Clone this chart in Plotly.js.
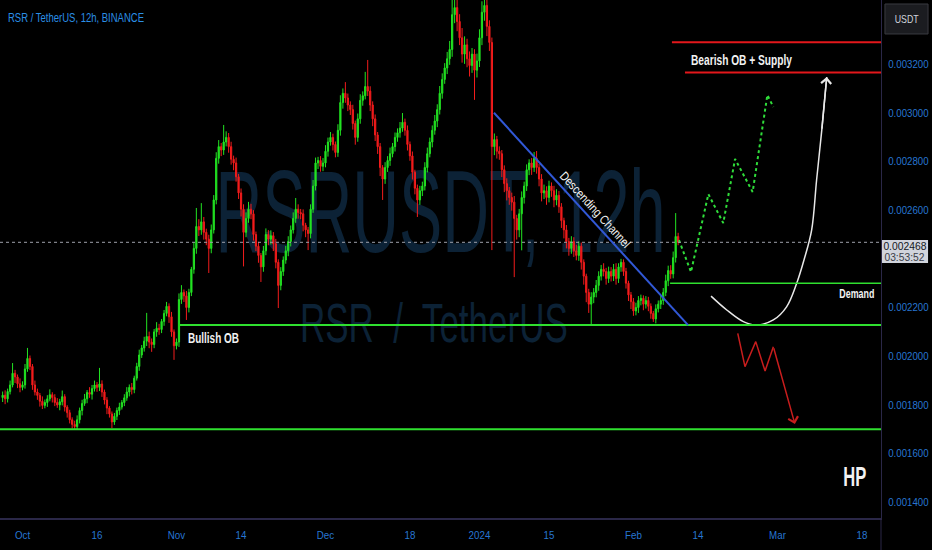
<!DOCTYPE html>
<html>
<head>
<meta charset="utf-8">
<script src="https://cdn.plot.ly/plotly-3.0.1.min.js"></script>
<style>
  html, body { margin: 0; padding: 0; background: #000; }
  #chart { width: 932px; height: 550px; }
</style>
</head>
<body>
<div id="chart"></div>
<script>
// RSR / TetherUS, 12h bars. Prices are stored in millionths of USDT.
const firstBarUTC = Date.UTC(2023, 8, 27, 0, 0);
const barHours = 12;
const firstOpen = 1830;

const closes = [
  1840, 1825, 1855, 1882, 1930, 1915, 1887, 1872, 1882, 1948,
  1991, 1958, 1882, 1853, 1839, 1815, 1798, 1810, 1825, 1842,
  1830, 1810, 1800, 1813, 1834, 1791, 1768, 1739, 1720, 1711,
  1739, 1777, 1806, 1825, 1851, 1844, 1867, 1882, 1872, 1886,
  1853, 1820, 1787, 1763, 1730, 1753, 1777, 1791, 1810, 1829,
  1853, 1872, 1863, 1910, 1958, 2005, 2034, 2062, 2081, 2058,
  2048, 2100, 2115, 2110, 2143, 2176, 2205, 2162, 2100, 2043,
  2058, 2233, 2262, 2248, 2200, 2262, 2357, 2443, 2533, 2519,
  2552, 2509, 2481, 2443, 2519, 2642, 2813, 2861, 2847, 2880,
  2899, 2861, 2809, 2794, 2737, 2671, 2604, 2509, 2566, 2604,
  2585, 2500, 2452, 2414, 2367, 2433, 2500, 2481, 2495, 2462,
  2386, 2291, 2348, 2395, 2433, 2471, 2519, 2566, 2604, 2590,
  2585, 2538, 2519, 2504, 2604, 2699, 2794, 2804, 2780, 2794,
  2842, 2880, 2899, 2870, 2837, 2928, 3042, 3080, 3061, 3032,
  3013, 2956, 2899, 2975, 3051, 3070, 3108, 3089, 3032, 2975,
  2909, 2861, 2775, 2728, 2775, 2804, 2832, 2861, 2899, 2918,
  2937, 2961, 2928, 2870, 2823, 2756, 2690, 2642, 2680, 2699,
  2775, 2832, 2880, 2928, 2966, 3013, 3080, 3137, 3184, 3222,
  3260, 3403, 3432, 3375, 3308, 3241, 3279, 3222, 3194, 3241,
  3175, 3213, 3308, 3413, 3441, 3355, 3289, 2861, 2890, 2842,
  2832, 2766, 2709, 2680, 2652, 2633, 2566, 2519, 2585, 2652,
  2699, 2766, 2794, 2775, 2813, 2775, 2728, 2671, 2680, 2652,
  2699, 2680, 2642, 2661, 2614, 2557, 2519, 2471, 2443, 2471,
  2433, 2414, 2452, 2386, 2329, 2262, 2214, 2243, 2262, 2291,
  2329, 2357, 2348, 2319, 2348, 2329, 2357, 2319, 2367, 2386,
  2348, 2300, 2252, 2224, 2186, 2200, 2229, 2238, 2214, 2229,
  2205, 2176, 2153, 2195, 2214, 2229, 2262, 2310, 2352, 2338,
  2405, 2492, 2468
];

// upper and lower shadow lengths of each bar
const wickUp = [
  15, 20, 12, 18, 42, 14, 10, 22, 15, 20,
  43, 12, 10, 18, 14, 10, 20, 12, 15, 22,
  10, 14, 18, 12, 25, 10, 8, 12, 10, 15,
  18, 12, 15, 20, 10, 22, 15, 18, 12, 66,
  15, 10, 12, 8, 10, 14, 12, 18, 10, 15,
  20, 12, 18, 10, 15, 22, 12, 18, 97, 20,
  15, 12, 25, 18, 10, 14, 18, 12, 20, 10,
  15, 25, 30, 12, 20, 15, 10, 25, 76, 30,
  77, 20, 15, 18, 22, 20, 25, 27, 15, 70,
  25, 18, 20, 15, 22, 12, 18, 20, 25, 30,
  22, 15, 12, 18, 10, 20, 25, 18, 22, 15,
  20, 12, 18, 15, 20, 22, 18, 25, 46, 20,
  15, 18, 10, 12, 20, 25, 22, 15, 18, 20,
  25, 18, 22, 15, 12, 25, 30, 20, 46, 18,
  15, 20, 12, 22, 25, 18, 60, 109, 20, 15,
  18, 12, 15, 10, 22, 18, 25, 15, 20, 18,
  25, 38, 15, 20, 12, 18, 10, 15, 20, 18,
  22, 25, 18, 20, 25, 22, 30, 25, 20, 28,
  35, 70, 90, 60, 30, 40, 35, 25, 30, 25,
  20, 30, 35, 45, 40, 30, 25, 20, 25, 15,
  20, 15, 18, 22, 15, 20, 25, 15, 20, 25,
  18, 22, 15, 20, 26, 30, 15, 20, 25, 18,
  22, 15, 20, 25, 18, 15, 12, 20, 15, 22,
  18, 25, 20, 15, 12, 10, 15, 20, 18, 22,
  20, 18, 25, 15, 20, 18, 22, 25, 15, 14,
  12, 15, 10, 12, 15, 20, 18, 15, 12, 18,
  15, 12, 10, 18, 15, 20, 18, 25, 20, 22,
  25, 96, 15
];
const wickDown = [
  18, 22, 15, 12, 10, 25, 18, 20, 12, 15,
  12, 15, 20, 14, 18, 22, 15, 12, 18, 10,
  20, 15, 12, 22, 15, 18, 20, 15, 17, 10,
  12, 15, 20, 10, 18, 15, 22, 12, 18, 15,
  20, 18, 25, 15, 25, 12, 15, 18, 10, 15,
  12, 18, 20, 15, 10, 18, 12, 15, 20, 25,
  30, 15, 20, 22, 15, 18, 12, 25, 20, 58,
  15, 20, 18, 25, 51, 20, 15, 18, 22, 25,
  20, 30, 25, 101, 20, 15, 18, 22, 25, 20,
  18, 25, 22, 30, 20, 25, 30, 140, 20, 18,
  22, 25, 20, 30, 62, 20, 18, 25, 22, 30,
  25, 93, 20, 18, 15, 22, 20, 15, 18, 25,
  22, 25, 30, 68, 20, 15, 18, 25, 22, 20,
  18, 22, 15, 25, 20, 18, 22, 25, 20, 25,
  22, 25, 30, 18, 20, 22, 15, 20, 25, 30,
  25, 30, 35, 86, 20, 18, 22, 15, 20, 18,
  20, 15, 22, 25, 20, 30, 25, 70, 20, 22,
  18, 20, 15, 22, 18, 25, 20, 22, 18, 25,
  25, 30, 35, 40, 30, 35, 40, 35, 45, 30,
  122, 30, 25, 30, 35, 40, 35, 425, 35, 30,
  25, 30, 35, 40, 30, 35, 241, 40, 30, 150,
  25, 20, 22, 30, 18, 25, 30, 35, 25, 30,
  20, 25, 30, 22, 25, 30, 35, 28, 30, 22,
  25, 20, 22, 30, 35, 40, 36, 86, 25, 20,
  22, 18, 20, 25, 18, 22, 20, 25, 18, 20,
  18, 22, 25, 30, 20, 18, 22, 20, 25, 18,
  20, 22, 12, 18, 15, 20, 18, 15, 22, 20,
  18, 20, 12
];

const lastPrice = 0.002468;
const countdown = '03:53:52';

// horizontal levels (USDT)
const lowLevel = 0.0017;
const bullishOB = 0.002128;
const demandTop = 0.0023;
const supplyBottom = 0.003165;
const supplyTop = 0.00329;

// descending channel line
const channelDates = ['2024-01-03 22:00', '2024-02-12 00:00'];
const channelPrices = [0.003000, 0.002128];

// bullish projection path (dotted)
const pathDates = ['2024-02-10 04:00', '2024-02-12 14:00', '2024-02-16 02:00', '2024-02-19 02:00',
                   '2024-02-21 11:00', '2024-02-25 00:00', '2024-02-27 23:00', '2024-02-29 04:00'];
const pathPrices = [0.002477, 0.002346, 0.002666, 0.002547, 0.002810, 0.002675, 0.003073, 0.003024];

// rounded bottom into the supply zone
const curveDates = ['2024-02-16 15:00', '2024-02-19 19:00', '2024-02-23 03:00', '2024-02-25 20:00',
                    '2024-02-29 04:00', '2024-03-02 20:00', '2024-03-04 21:00', '2024-03-06 08:00',
                    '2024-03-07 21:00', '2024-03-08 21:00', '2024-03-09 22:00', '2024-03-10 22:00'];
const curvePrices = [0.002247, 0.002190, 0.002142, 0.002128, 0.002149, 0.002203,
                     0.002300, 0.002395, 0.002518, 0.002724, 0.002929, 0.003147];

// bearish breakdown path
const dropDates = ['2024-02-22 00:00', '2024-02-23 11:00', '2024-02-25 15:00',
                   '2024-02-27 12:00', '2024-02-29 04:00', '2024-03-04 12:00'];
const dropPrices = [0.002094, 0.001957, 0.002060, 0.001939, 0.002039, 0.001722];

// axes
const xRange = ['2023-09-26 11:15', '2024-03-21 20:10'];
const xTickDates = ['2023-10-01', '2023-10-16', '2023-11-01', '2023-11-14', '2023-12-01', '2023-12-18',
                    '2024-01-01', '2024-01-15', '2024-02-01', '2024-02-14', '2024-03-01', '2024-03-18'];
const xTickLabels = ['Oct', '16', 'Nov', '14', 'Dec', '18', '2024', '15', 'Feb', '14', 'Mar', '18'];
const yRange = [0.0013355, 0.0034633];
const yTickValues = [0.0014, 0.0016, 0.0018, 0.0020, 0.0022, 0.0026, 0.0028, 0.0030, 0.0032];

const UNIT = 1e-6;
const FONT = '"Liberation Sans", Arial, sans-serif';

function fmt(ms) {
  const d = new Date(ms);
  const p = n => String(n).padStart(2, '0');
  return d.getUTCFullYear() + '-' + p(d.getUTCMonth() + 1) + '-' + p(d.getUTCDate()) +
         ' ' + p(d.getUTCHours()) + ':' + p(d.getUTCMinutes());
}

const n = Math.min(closes.length, wickUp.length, wickDown.length);
const times = [], open = [], high = [], low = [], close = [];
for (let i = 0; i < n; i++) {
  const o = i === 0 ? firstOpen : closes[i - 1];
  const c = closes[i];
  times.push(fmt(firstBarUTC + i * barHours * 3600e3));
  open.push(o * UNIT);
  close.push(c * UNIT);
  high.push((Math.max(o, c) + wickUp[i]) * UNIT);
  low.push((Math.min(o, c) - wickDown[i]) * UNIT);
}

const GREEN = '#22e322';
const RED = '#f21c1c';

const traces = [
  {
    type: 'candlestick', x: times, open: open, high: high, low: low, close: close,
    increasing: { line: { color: GREEN, width: 1 }, fillcolor: GREEN },
    decreasing: { line: { color: RED, width: 1 }, fillcolor: RED },
    whiskerwidth: 0, hoverinfo: 'none', showlegend: false
  },
  {
    type: 'scatter', mode: 'lines', x: pathDates, y: pathPrices,
    line: { color: '#2fdc3a', width: 2, dash: 'dot' }, hoverinfo: 'none', showlegend: false
  },
  {
    type: 'scatter', mode: 'lines', x: curveDates, y: curvePrices,
    line: { color: '#e8e8e8', width: 1.5, shape: 'spline', smoothing: 1 }, hoverinfo: 'none', showlegend: false
  },
  {
    type: 'scatter', mode: 'lines', x: dropDates.slice(0, -1), y: dropPrices.slice(0, -1),
    line: { color: '#c81d1d', width: 1.5 }, hoverinfo: 'none', showlegend: false
  }
];

const AXIS_LINE = '#2a2747';
const WATERMARK = '#0c2236';

const shapes = [
  // watermark
  {
    type: 'rect', xref: 'paper', yref: 'paper', x0: 0.25, x1: 0.75, y0: 0.562, y1: 0.662,
    line: { width: 0 }, fillcolor: 'rgba(0,0,0,0)', layer: 'below',
    label: { text: 'RSRUSDT, 12h', textposition: 'middle center',
             font: { family: FONT, size: 116, color: WATERMARK } }
  },
  {
    type: 'rect', xref: 'paper', yref: 'paper', x0: 0.3, x1: 0.685, y0: 0.356, y1: 0.416,
    line: { width: 0 }, fillcolor: 'rgba(0,0,0,0)', layer: 'below',
    label: { text: 'RSR  /  TetherUS', textposition: 'middle center',
             font: { family: FONT, size: 55, color: WATERMARK } }
  },
  // last price line
  { type: 'line', xref: 'paper', yref: 'y', x0: 0, x1: 1, y0: lastPrice, y1: lastPrice,
    line: { color: '#9ea1aa', width: 1, dash: 'dot' } },
  // levels
  { type: 'line', xref: 'paper', yref: 'y', x0: 0, x1: 1, y0: lowLevel, y1: lowLevel,
    line: { color: '#2fe02f', width: 2 } },
  { type: 'line', xref: 'x', yref: 'y', x0: '2023-11-01 17:00', x1: xRange[1], y0: bullishOB, y1: bullishOB,
    line: { color: '#2fe02f', width: 2 } },
  { type: 'line', xref: 'x', yref: 'y', x0: '2024-02-08 09:00', x1: xRange[1], y0: demandTop, y1: demandTop,
    line: { color: '#2fe02f', width: 1.5 } },
  { type: 'line', xref: 'x', yref: 'y', x0: '2024-02-08 18:00', x1: xRange[1], y0: supplyTop, y1: supplyTop,
    line: { color: '#e3171b', width: 2 } },
  { type: 'line', xref: 'x', yref: 'y', x0: '2024-02-11 09:00', x1: xRange[1], y0: supplyBottom, y1: supplyBottom,
    line: { color: '#e3171b', width: 2 } },
  // descending channel
  { type: 'line', xref: 'x', yref: 'y', x0: channelDates[0], x1: channelDates[1],
    y0: channelPrices[0], y1: channelPrices[1], line: { color: '#3158d6', width: 2 } },
  // axis separator below the price scale
  { type: 'line', xref: 'paper', yref: 'paper', x0: 1, x1: 1, y0: 0, y1: -0.07,
    line: { color: AXIS_LINE, width: 1 } },
  // last price tag
  { type: 'rect', xref: 'paper', yref: 'paper', x0: 1.0011, x1: 1.0534, y0: 0.4923, y1: 0.5367,
    fillcolor: '#d1d4dc', line: { width: 0 } },
  // currency button
  { type: 'rect', xref: 'paper', yref: 'paper', x0: 1.0045, x1: 1.0534, y0: 0.9344, y1: 0.9923,
    fillcolor: '#1b1c20', line: { color: '#3a3b40', width: 1 } }
];

const WHITE = '#f2f2f2';
const annotations = [
  { xref: 'paper', yref: 'paper', x: 0.0068, y: 0.965, xanchor: 'left', yanchor: 'middle', align: 'left',
    text: 'RSR / TetherUS, 12h, BINANCE', showarrow: false,
    font: { family: FONT, size: 12, color: '#2b8fe6' } },
  { xref: 'x', yref: 'y', x: '2023-11-02 20:00', y: 0.002073, xanchor: 'left', yanchor: 'middle', align: 'left',
    text: '<b>Bullish OB</b>', showarrow: false, font: { family: FONT, size: 14, color: WHITE } },
  { xref: 'x', yref: 'y', x: '2024-02-12 05:00', y: 0.003215, xanchor: 'left', yanchor: 'middle', align: 'left',
    text: '<b>Bearish OB + Supply</b>', showarrow: false, font: { family: FONT, size: 14, color: WHITE } },
  { xref: 'x', yref: 'y', x: '2024-03-20 19:00', y: 0.002256, xanchor: 'right', yanchor: 'middle', align: 'right',
    text: '<b>Demand</b>', showarrow: false, font: { family: FONT, size: 12.5, color: WHITE } },
  { xref: 'x', yref: 'y', x: '2024-03-16 14:00', y: 0.001504, xanchor: 'center', yanchor: 'middle',
    text: '<b>HP</b>', showarrow: false, font: { family: FONT, size: 27, color: WHITE } },
  { xref: 'x', yref: 'y', x: '2024-01-24 07:00', y: 0.002601, xanchor: 'center', yanchor: 'middle',
    text: 'Descending Channel', textangle: 47.6, showarrow: false,
    font: { family: FONT, size: 12.5, color: WHITE } },
  // arrow heads
  { xref: 'x', yref: 'y', axref: 'x', ayref: 'y',
    x: curveDates[curveDates.length - 1], y: curvePrices[curvePrices.length - 1],
    ax: curveDates[curveDates.length - 2], ay: curvePrices[curvePrices.length - 2],
    text: '', showarrow: true, arrowhead: 4, arrowsize: 1.3, arrowwidth: 1.5, arrowcolor: '#e8e8e8', standoff: 0 },
  { xref: 'x', yref: 'y', axref: 'x', ayref: 'y',
    x: dropDates[dropDates.length - 1], y: dropPrices[dropPrices.length - 1],
    ax: dropDates[dropDates.length - 2], ay: dropPrices[dropPrices.length - 2],
    text: '', showarrow: true, arrowhead: 4, arrowsize: 1.3, arrowwidth: 1.5, arrowcolor: '#c81d1d', standoff: 0 },
  // price scale items
  { xref: 'paper', yref: 'paper', x: 1.0289, y: 0.9633, xanchor: 'center', yanchor: 'middle',
    text: 'USDT', showarrow: false, font: { family: FONT, size: 11.5, color: '#d1d4dc' } },
  { xref: 'paper', yref: 'paper', x: 1.0272, y: 0.5242, xanchor: 'center', yanchor: 'middle',
    text: lastPrice.toFixed(6), showarrow: false, font: { family: FONT, size: 10.5, color: '#131722' } },
  { xref: 'paper', yref: 'paper', x: 1.0272, y: 0.5032, xanchor: 'center', yanchor: 'middle',
    text: countdown, showarrow: false, font: { family: FONT, size: 10.5, color: '#3a3d48' } }
];

const TICK_BLUE = '#2776d2';
const layout = {
  width: 932, height: 550,
  margin: { l: 0, r: 51, t: 0, b: 32 },
  paper_bgcolor: '#000000', plot_bgcolor: '#000000',
  showlegend: false, dragmode: false,
  xaxis: {
    type: 'date', range: xRange, tickvals: xTickDates, ticktext: xTickLabels,
    showgrid: false, zeroline: false, ticks: '', ticklabelstandoff: 5,
    tickfont: { family: FONT, size: 11.5, color: TICK_BLUE },
    showline: true, linecolor: AXIS_LINE, linewidth: 2,
    rangeslider: { visible: false }, fixedrange: true
  },
  yaxis: {
    side: 'right', range: yRange, tickvals: yTickValues,
    ticktext: yTickValues.map(v => v.toFixed(6)),
    showgrid: false, zeroline: false, ticks: '', ticklabelstandoff: 4,
    tickfont: { family: FONT, size: 11, color: TICK_BLUE },
    showline: true, linecolor: AXIS_LINE, linewidth: 1, fixedrange: true
  },
  shapes: shapes,
  annotations: annotations
};

// condensed lettering: fit a text run into a given width
function fitWidth(el, width) {
  el.setAttribute('textLength', width.toFixed(1));
  el.setAttribute('lengthAdjust', 'spacingAndGlyphs');
}

const textWidths = {
  'RSRUSDT, 12h': 450, 'RSR  /  TetherUS': 268, 'RSR / TetherUS, 12h, BINANCE': 136,
  'Bullish OB': 51, 'Bearish OB + Supply': 101, 'Demand': 35, 'HP': 23,
  'Descending Channel': 98, 'USDT': 24, '0.002468': 43, '03:53:52': 40
};

Plotly.newPlot('chart', traces, layout, { staticPlot: true, displayModeBar: false }).then(gd => {
  gd.querySelectorAll('.xtick text').forEach(t => fitWidth(t, t.getComputedTextLength() * 0.85));
  gd.querySelectorAll('.ytick text').forEach(t => fitWidth(t, t.getComputedTextLength() * 0.88));
  gd.querySelectorAll('text').forEach(t => {
    const w = textWidths[t.textContent];
    if (w) fitWidth(t, w);
  });
});
</script>
</body>
</html>
